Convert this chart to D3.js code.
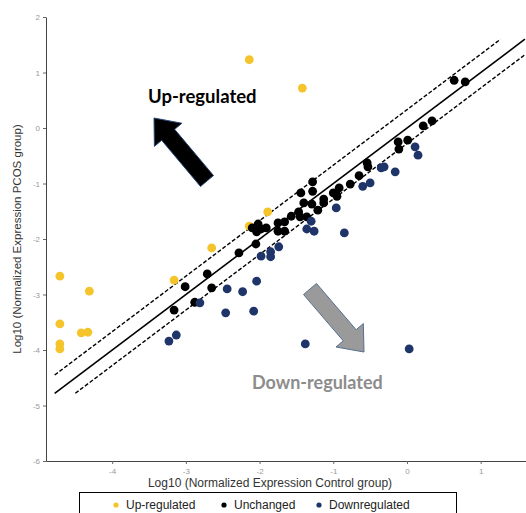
<!DOCTYPE html>
<html>
<head>
<meta charset="utf-8">
<script src="https://cdn.jsdelivr.net/npm/d3@7"></script>
<style>
  body { margin: 0; background: #fff; }
  #chart { width: 526px; height: 513px; }
  .tick text { fill: #999; font-size: 8px; font-family: "Liberation Sans", Arial, sans-serif; }
  .tick line { stroke: #666; }
  .domain { stroke: #444; }
</style>
</head>
<body>
<div id="chart"></div>
<script>
// values (log10 control, log10 PCOS)
var upRegulated = [
  [-2.14, 1.23], [-1.42, 0.72], [-4.71, -2.67], [-4.31, -2.94], [-4.71, -3.53],
  [-4.42, -3.69], [-4.33, -3.68], [-4.71, -3.89], [-4.71, -3.98], [-3.16, -2.74],
  [-2.65, -2.16], [-1.89, -1.51], [-2.14, -1.77]
];
var unchanged = [
  [-3.16, -3.28], [-3.01, -2.86], [-2.88, -3.14], [-2.71, -2.63], [-2.65, -2.88],
  [-2.28, -2.25], [-2.05, -2.09], [-2.10, -1.80], [-2.02, -1.73], [-2.04, -1.87],
  [-1.98, -1.82], [-1.91, -1.80], [-1.75, -1.71], [-1.75, -1.86], [-1.66, -1.69],
  [-1.66, -1.86], [-1.57, -1.59], [-1.47, -1.51], [-1.45, -1.60], [-1.36, -1.60],
  [-1.40, -1.35], [-1.29, -1.37], [-1.44, -1.17], [-1.28, -0.97], [-1.28, -1.14],
  [-1.21, -1.48], [-1.13, -1.28], [-1.13, -1.35], [-1.00, -1.17], [-0.96, -1.19],
  [-0.92, -1.08], [-0.95, -1.23], [-0.77, -1.01], [-0.65, -0.86], [-0.54, -0.63],
  [-0.53, -0.70], [-0.12, -0.25], [-0.11, -0.38], [0.01, -0.22], [0.22, 0.04],
  [0.34, 0.13], [0.64, 0.86], [0.79, 0.83]
];
var downRegulated = [
  [-3.23, -3.84], [-3.13, -3.73], [-2.81, -3.15], [-2.44, -2.90], [-2.23, -2.95],
  [-2.46, -3.33], [-2.08, -3.30], [-2.04, -2.76], [-1.98, -2.31], [-1.85, -2.23],
  [-1.85, -2.32], [-1.74, -2.14], [-1.36, -1.82], [-1.26, -1.86], [-1.30, -1.68],
  [-0.85, -1.89], [-0.96, -1.44], [-0.60, -1.05], [-0.50, -0.99], [-0.35, -0.72],
  [-0.31, -0.70], [-0.16, -0.79], [0.11, -0.34], [0.15, -0.49], [-1.38, -3.89],
  [0.03, -3.98]
];
var xTicks = [-4, -3, -2, -1, 0, 1];
var yTicks = [2, 1, 0, -1, -2, -3, -4, -5, -6];
var foldUp = 0.33, foldDown = -0.28;
var lineStart = -4.78, lineEnd = 1.6;
var legendItems = ["Up-regulated", "Unchanged", "Downregulated"];
var colors = ["#F4C42A", "#000000", "#1F3468"];

var margin = {top: 17, right: 0, bottom: 52, left: 46};
var width = 526 - margin.left - margin.right;
var height = 513 - margin.top - margin.bottom;

var svg = d3.select("#chart").append("svg")
    .attr("width", 526)
    .attr("height", 513);

var x = d3.scaleLinear().domain([-4.898, 1.615]).range([0, width]);
var y = d3.scaleLinear().domain([-6, 2]).range([height, 0]);

var g = svg.append("g")
    .attr("transform", "translate(" + margin.left + "," + margin.top + ")");

var plainFormat = function(d) { return String(d); };

g.append("g")
    .attr("class", "axis axis--x")
    .attr("transform", "translate(0," + height + ")")
    .call(d3.axisBottom(x).tickValues(xTicks).tickFormat(plainFormat)
      .tickSize(3).tickSizeOuter(0).tickPadding(4));

g.append("g")
    .attr("class", "axis axis--y")
    .call(d3.axisLeft(y).tickValues(yTicks).tickFormat(plainFormat)
      .tickSize(3).tickSizeOuter(0).tickPadding(3));

// y = x line with fold-change bands
var line = d3.line()
    .x(function(d) { return x(d[0]); })
    .y(function(d) { return y(d[1]); });

g.append("path")
    .datum([[lineStart, lineStart], [lineEnd, lineEnd]])
    .attr("d", line)
    .style("fill", "none").style("stroke", "#000").style("stroke-width", 1.6);

g.append("path")
    .datum([[lineStart, lineStart + foldUp], [lineEnd - foldUp, lineEnd]])
    .attr("d", line)
    .style("fill", "none").style("stroke", "#000").style("stroke-width", 1.4)
    .style("stroke-dasharray", "4,2");

g.append("path")
    .datum([[lineStart - foldDown, lineStart], [lineEnd, lineEnd + foldDown]])
    .attr("d", line)
    .style("fill", "none").style("stroke", "#000").style("stroke-width", 1.4)
    .style("stroke-dasharray", "4,2");

// arrows
function arrow(x0, y0, x1, y1, shaft, head, headLen) {
  var dx = x1 - x0, dy = y1 - y0, len = Math.sqrt(dx * dx + dy * dy);
  var ux = dx / len, uy = dy / len, px = -uy, py = ux;
  var bx = x1 - ux * headLen, by = y1 - uy * headLen;
  var pts = [
    [x0 + px * shaft / 2, y0 + py * shaft / 2],
    [bx + px * shaft / 2, by + py * shaft / 2],
    [bx + px * head / 2, by + py * head / 2],
    [x1, y1],
    [bx - px * head / 2, by - py * head / 2],
    [bx - px * shaft / 2, by - py * shaft / 2],
    [x0 - px * shaft / 2, y0 - py * shaft / 2]
  ];
  return "M" + pts.map(function(p) { return p.join(","); }).join("L") + "Z";
}

svg.append("path")
    .attr("d", arrow(207, 181, 154, 118, 17, 36, 22))
    .style("fill", "#000").style("stroke", "#2a4a7a").style("stroke-width", 1);

svg.append("path")
    .attr("d", arrow(310, 289, 364, 352, 17, 36, 22))
    .style("fill", "#9a9a9a").style("stroke", "#55708f").style("stroke-width", 1);

svg.append("text")
    .attr("x", 148).attr("y", 103)
    .style("font-family", "Lato, 'Open Sans', sans-serif")
    .style("font-weight", "bold").style("font-size", "18.5px")
    .text("Up-regulated");

svg.append("text")
    .attr("x", 252).attr("y", 389)
    .style("font-family", "Lato, 'Open Sans', sans-serif")
    .style("font-weight", "bold").style("font-size", "18px")
    .style("fill", "#8c8c8c")
    .text("Down-regulated");

// points
var groups = [upRegulated, unchanged, downRegulated];
groups.forEach(function(data, i) {
  g.selectAll(".dot" + i)
      .data(data)
    .enter().append("circle")
      .attr("class", "dot" + i)
      .attr("cx", function(d) { return x(d[0]); })
      .attr("cy", function(d) { return y(d[1]); })
      .attr("r", 4.4)
      .style("fill", colors[i]);
});

// axis titles
svg.append("text")
    .attr("transform", "translate(21," + (margin.top + height / 2) + ") rotate(-90)")
    .style("text-anchor", "middle")
    .style("font-family", "'Liberation Sans', Arial, sans-serif")
    .style("font-size", "11.5px").style("fill", "#333")
    .text("Log10 (Normalized Expression PCOS group)");

svg.append("text")
    .attr("x", 270).attr("y", 487)
    .style("text-anchor", "middle")
    .style("font-family", "'Liberation Sans', Arial, sans-serif")
    .style("font-size", "12px").style("fill", "#333")
    .text("Log10 (Normalized Expression Control group)");

// legend
svg.append("rect")
    .attr("x", 79.5).attr("y", 492.5)
    .attr("width", 377).attr("height", 30)
    .style("fill", "none").style("stroke", "#000");

var legendX = [116, 224, 319];
legendItems.forEach(function(name, i) {
  svg.append("circle")
      .attr("cx", legendX[i]).attr("cy", 505)
      .attr("r", 2.6).style("fill", colors[i]);
  svg.append("text")
      .attr("x", legendX[i] + 10).attr("y", 509)
      .style("font-family", "'Liberation Sans', Arial, sans-serif")
      .style("font-size", "12px").style("fill", "#222")
      .text(name);
});
</script>
</body>
</html>
